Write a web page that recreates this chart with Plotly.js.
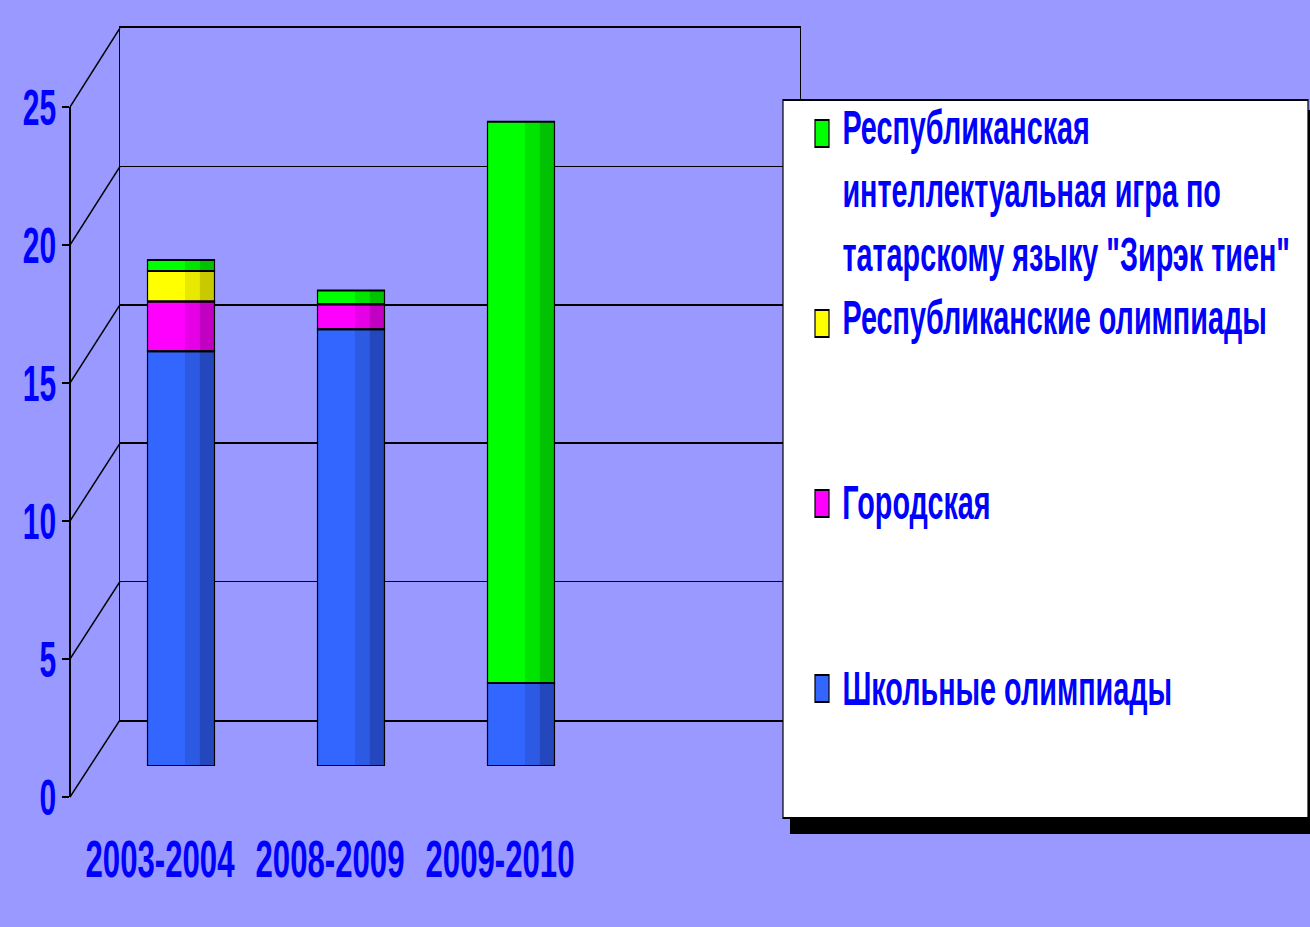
<!DOCTYPE html>
<html>
<head>
<meta charset="utf-8">
<script src="https://cdn.plot.ly/plotly-3.0.1.min.js"></script>
<style>
html,body{margin:0;padding:0;overflow:hidden;background:#9999FF;width:1310px;height:927px}
#wrap{width:1310px;height:927px;overflow:hidden;position:relative}
#chart{width:2185px;height:927px;transform:scaleX(0.59954);transform-origin:0 0}
</style>
</head>
<body>
<div id="wrap"><div id="chart"></div></div>
<script>
// ---- data ----
const categories = ['2003-2004', '2008-2009', '2009-2010'];
const school   = [15, 15.8, 3];     // Школьные олимпиады
const city     = [1.8, 0.9, 0];     // Городская
const republic = [1.1, 0, 0];       // Республиканские олимпиады
const zirek    = [0.4, 0.5, 20.3];  // Республиканская интеллектуальная игра ...
const seriesNames = [
  'Школьные олимпиады',
  'Городская',
  'Республиканские олимпиады',
  'Республиканская интеллектуальная игра по татарскому языку "Зирэк тиен"'
];
const legendLines = [
  ['Школьные олимпиады'],
  ['Городская'],
  ['Республиканские олимпиады'],
  ['Республиканская', 'интеллектуальная игра по', 'татарскому языку "Зирэк тиен"']
];
const yTicks = [0, 5, 10, 15, 20, 25];

// ---- styles ----
const palette = [
  ['#3366FF', '#2D5AE2', '#2447BD'],
  ['#FF00FF', '#E600E6', '#C200C2'],
  ['#FFFF00', '#E8E800', '#C9C900'],
  ['#00FF00', '#00E400', '#00C200']
];
const FONT = 'Liberation Sans Narrow, Arial Narrow, Liberation Sans, Arial, sans-serif';
const BLUE = '#0000FF';
const PW = 1310, PH = 927;
const fx = px => px / PW;
const fy = py => 1 - py / PH;

const pxPerUnit = 27.65;
const barZero = 766;
const backDom = [fy(720), fy(28)];
const frontDom = [fy(797), fy(107)];
const barDom = [fy(barZero), fy(barZero - 25 * pxPerUnit)];
const W = 0.394;

// ---- traces ----
const traces = [];
traces.push({type: 'scatter', x: [0.5], y: [0], xaxis: 'x', yaxis: 'y', mode: 'markers',
  marker: {opacity: 0}, hoverinfo: 'skip', showlegend: false});
traces.push({type: 'scatter', x: categories, y: categories.map(() => 0), xaxis: 'x3', yaxis: 'y3',
  mode: 'markers', marker: {opacity: 0}, hoverinfo: 'skip', showlegend: false});

const stacks = [school, city, republic, zirek];
let cum = categories.map(() => 0);
const bases = [];
stacks.forEach((vals, i) => {
  const base = cum.slice();
  bases.push(base);
  const common = {type: 'bar', x: categories, y: vals, base: base, xaxis: 'x2', yaxis: 'y2',
    showlegend: false, hoverinfo: 'skip'};
  traces.push(Object.assign({}, common, {name: seriesNames[i], width: W, offset: -W / 2,
    marker: {color: palette[i][0], line: {width: 0}}}));
  traces.push(Object.assign({}, common, {width: W * 0.22, offset: W * 0.06,
    marker: {color: palette[i][1], line: {width: 0}}}));
  traces.push(Object.assign({}, common, {width: W * 0.22, offset: W * 0.28,
    marker: {color: palette[i][2], line: {width: 0}}}));
  cum = cum.map((c, j) => c + vals[j]);
});
stacks.forEach((vals, i) => {
  traces.push({type: 'bar', x: categories, y: vals, base: bases[i], xaxis: 'x2', yaxis: 'y2',
    width: W, offset: -W / 2, showlegend: false, hoverinfo: 'skip',
    marker: {color: 'rgba(0,0,0,0)', line: {color: '#000', width: 2}}});
});

// ---- shapes ----
const shapes = [];
yTicks.forEach(v => {
  const yf = frontDom[0] + v / 25 * (frontDom[1] - frontDom[0]);
  const yb = backDom[0] + v / 25 * (backDom[1] - backDom[0]);
  shapes.push({type: 'line', xref: 'paper', yref: 'paper', x0: fx(70), y0: yf, x1: fx(120), y1: yb,
    line: {color: '#000', width: 2}});
});
// legend box with shadow
shapes.push({type: 'rect', xref: 'paper', yref: 'paper', x0: fx(790), x1: fx(1330), y0: fy(834), y1: fy(110),
  fillcolor: '#000', line: {width: 0}});
shapes.push({type: 'rect', xref: 'paper', yref: 'paper', x0: fx(783), x1: fx(1308), y0: fy(818), y1: fy(100),
  fillcolor: '#FFFFFF', line: {color: '#000', width: 2}});

// legend entries (top to bottom: green, yellow, magenta, blue)
const legendTop = [675, 490, 310, 120];
const legendLineY = [[688], [503], [318], [128, 191, 255]];
const annotations = [];
[3, 2, 1, 0].forEach(i => {
  shapes.push({type: 'rect', xref: 'paper', yref: 'paper', x0: fx(815), x1: fx(829),
    y0: fy(legendTop[i] + 27), y1: fy(legendTop[i]), fillcolor: palette[i][0],
    line: {color: '#000', width: 2}});
  legendLines[i].forEach((t, k) => {
    annotations.push({xref: 'paper', yref: 'paper', x: fx(841), y: fy(legendLineY[i][k]),
      xanchor: 'left', yanchor: 'middle', showarrow: false, text: t,
      font: {family: FONT, size: 48, color: BLUE, weight: 700}});
  });
});

const tickFont = {family: FONT, size: 50, color: BLUE, weight: 700};
const catFont = {family: FONT, size: 52, color: BLUE, weight: 700};

const layout = {
  width: 2185, height: 927,
  margin: {l: 0, r: 0, t: 0, b: 0},
  paper_bgcolor: '#9999FF', plot_bgcolor: 'rgba(0,0,0,0)',
  barmode: 'overlay', showlegend: false,
  xaxis: {domain: [fx(120), fx(800)], range: [0, 1], showgrid: false, zeroline: false,
    showticklabels: false, ticks: '', showline: true, mirror: true, linecolor: '#000', linewidth: 1.8,
    anchor: 'y', fixedrange: true},
  yaxis: {domain: backDom, range: [0, 25], tick0: 0, dtick: 5, showgrid: true, gridcolor: '#000',
    gridwidth: 1.8, showline: true, mirror: true, linecolor: '#000', linewidth: 2.5, zeroline: false,
    showticklabels: false, ticks: '', anchor: 'x', fixedrange: true},
  xaxis2: {domain: [fx(96), fx(606)], type: 'category', range: [-0.5, 2.5], visible: false,
    anchor: 'y2', fixedrange: true},
  yaxis2: {domain: barDom, range: [0, 25], visible: false, anchor: 'x2', fixedrange: true},
  xaxis3: {domain: [fx(75), fx(585)], type: 'category', range: [-0.5, 2.5], anchor: 'free',
    position: fy(824), showline: false, showgrid: false, zeroline: false, ticks: '',
    tickfont: catFont, fixedrange: true},
  yaxis3: {domain: frontDom, range: [0, 25], tick0: 0, dtick: 5, anchor: 'free', position: fx(70),
    side: 'left', showline: true, linecolor: '#000', linewidth: 2.5, ticks: 'outside', ticklen: 12,
    tickwidth: 2, tickcolor: '#000', showgrid: false, zeroline: false, tickfont: tickFont,
    fixedrange: true},
  shapes: shapes,
  annotations: annotations
};

Plotly.newPlot('chart', traces, layout, {staticPlot: true, displayModeBar: false});
</script>
</body>
</html>
